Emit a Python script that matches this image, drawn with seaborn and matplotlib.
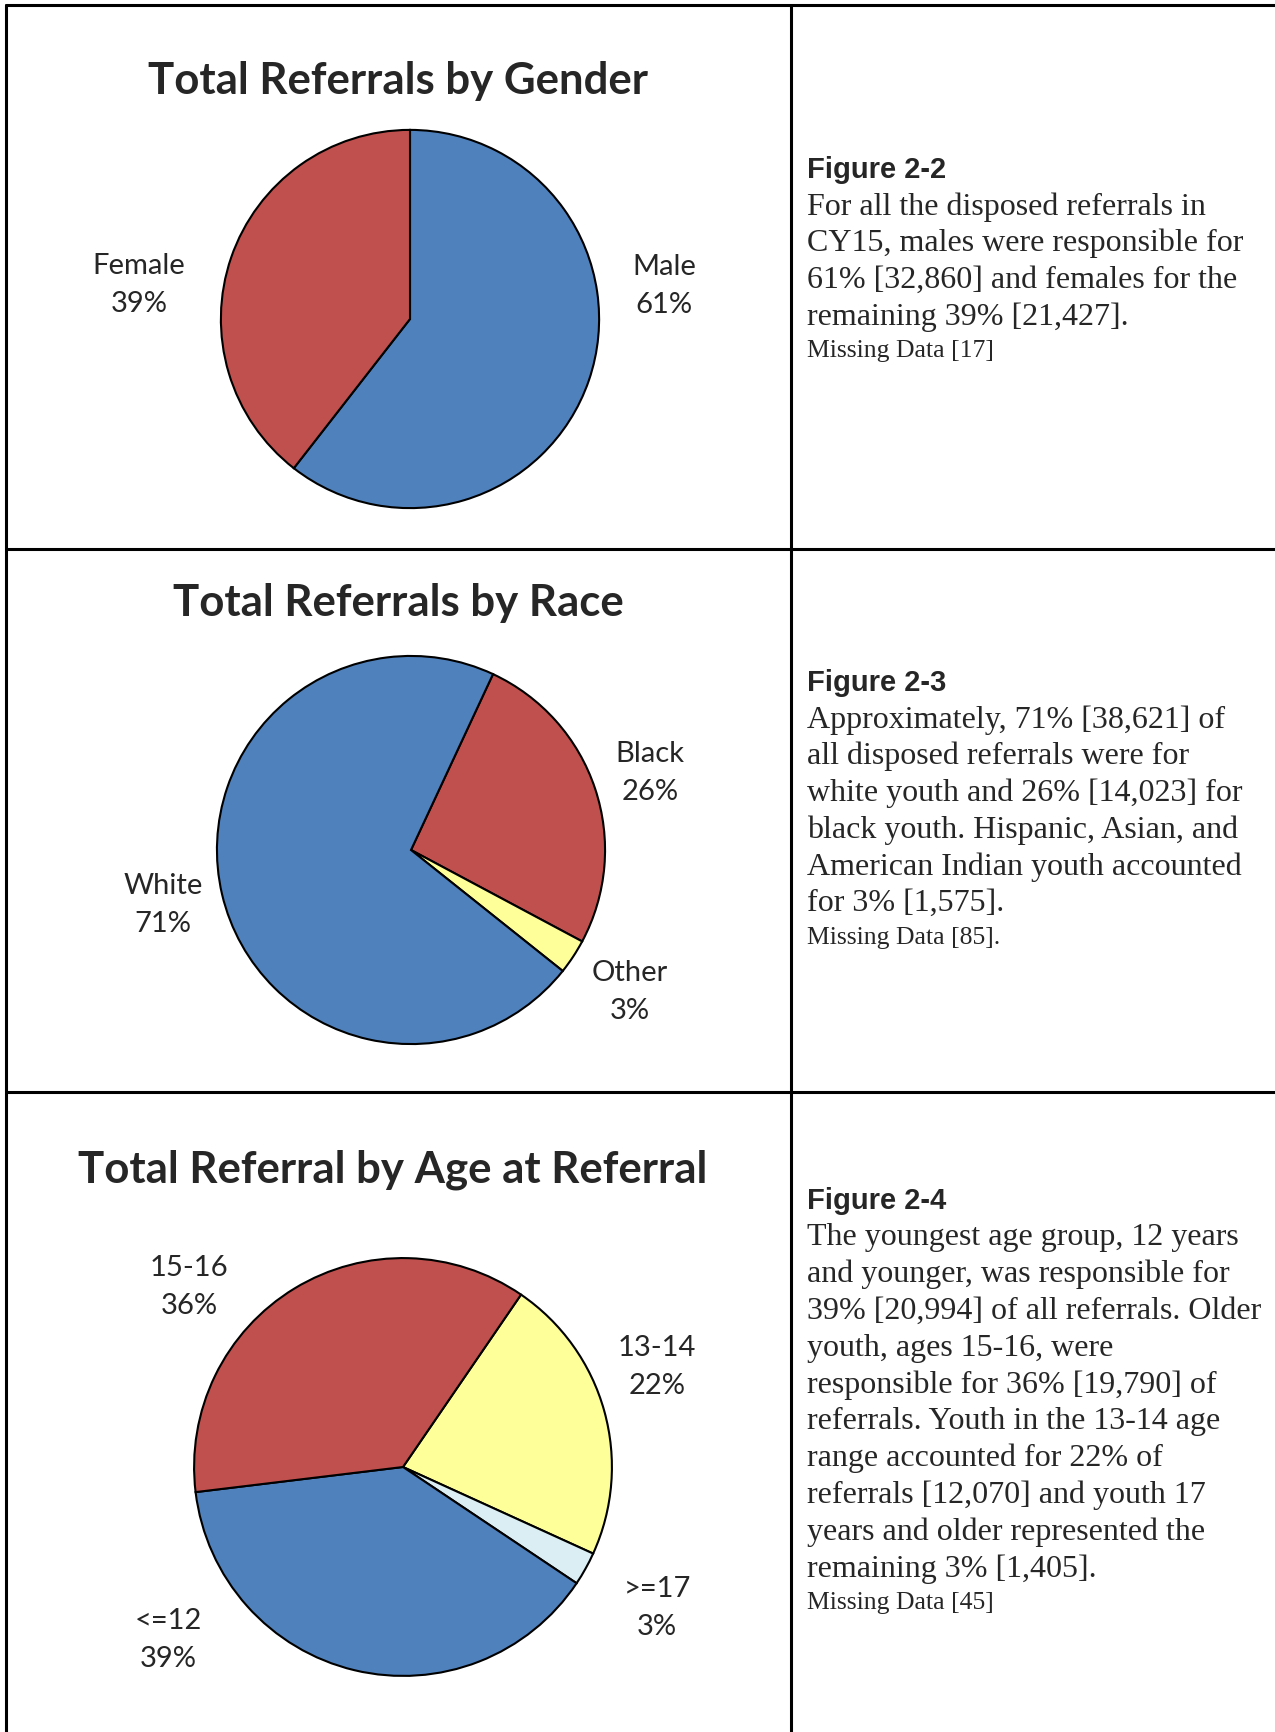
import matplotlib
matplotlib.use("Agg")
import matplotlib.pyplot as plt
import seaborn as sns

gender_labels = ["Male", "Female"]
gender_counts = [32860, 21427]
gender_pcts = ["61%", "39%"]

race_labels = ["Black", "Other", "White"]
race_counts = [14023, 1575, 38621]
race_pcts = ["26%", "3%", "71%"]

age_labels = ["13-14", ">=17", "<=12", "15-16"]
age_counts = [12070, 1405, 20994, 19790]
age_pcts = ["22%", "3%", "39%", "36%"]

# captions on the right
cap_titles = ["Figure 2-2", "Figure 2-3", "Figure 2-4"]
cap_bodies = [
    ["For all the disposed referrals in",
     "CY15, males were responsible for",
     "61% [32,860] and females for the",
     "remaining 39% [21,427]."],
    ["Approximately, 71% [38,621] of",
     "all disposed referrals were for",
     "white youth and 26% [14,023] for",
     "black youth. Hispanic, Asian, and",
     "American Indian youth accounted",
     "for 3% [1,575]."],
    ["The youngest age group, 12 years",
     "and younger, was responsible for",
     "39% [20,994] of all referrals. Older",
     "youth, ages 15-16, were",
     "responsible for 36% [19,790] of",
     "referrals. Youth in the 13-14 age",
     "range accounted for 22% of",
     "referrals [12,070] and youth 17",
     "years and older represented the",
     "remaining 3% [1,405]."],
]
cap_missing = ["Missing Data [17]", "Missing Data [85].", "Missing Data [45]"]

sns.set_theme(style="white")
plt.rcParams["font.family"] = ["Lato", "DejaVu Sans"]

W, H = 1275, 1732
BLUE, RED, YELLOW, LIGHT = "#4F81BD", "#C0504D", "#FFFF99", "#DAEEF3"

fig = plt.figure(figsize=(W / 100, H / 100), dpi=100)
fig.patch.set_facecolor("white")


def fx(x):
    return x / W


def fy(y):
    return 1 - y / H


# table grid lines
lw = 2.2
for xs, ys in [([6, 6], [5, H]), ([791, 791], [5, H]), ([6, W], [5, 5]),
               ([6, W], [549, 549]), ([6, W], [1092, 1092])]:
    fig.add_artist(plt.Line2D([fx(v) for v in xs], [fy(v) for v in ys],
                              color="black", lw=lw))


def draw_pie(cx, cy, r, counts, colors, start, title, tx, ty, labels, pcts, lab_pos):
    ax = fig.add_axes([fx(cx - r), fy(cy + r), 2 * r / W, 2 * r / H])
    ax.pie(counts, colors=sns.color_palette(colors), startangle=start,
           counterclock=False, radius=1,
           wedgeprops=dict(edgecolor="black", linewidth=1.5))
    ax.set_xlim(-1.01, 1.01)
    ax.set_ylim(-1.01, 1.01)
    ax.set_aspect("equal")
    ax.axis("off")
    fig.text(fx(tx), fy(ty), title, ha="center", va="center",
             fontsize=31.5, fontweight="bold")
    for lab, pct, (px, py) in zip(labels, pcts, lab_pos):
        fig.text(fx(px), fy(py - 19), lab, ha="center", va="center", fontsize=21)
        fig.text(fx(px), fy(py + 19), pct, ha="center", va="center", fontsize=21)


draw_pie(410, 319, 191, gender_counts, [BLUE, RED], 90,
         "Total Referrals by Gender", 398, 81, gender_labels, gender_pcts,
         [(664, 286), (139, 285)])
draw_pie(411, 850, 196, race_counts, [RED, YELLOW, BLUE], 65,
         "Total Referrals by Race", 398, 603, race_labels, race_pcts,
         [(650, 773), (630, 992), (163, 905)])
draw_pie(403, 1467, 211, age_counts, [YELLOW, LIGHT, BLUE, RED], 55.6,
         "Total Referral by Age at Referral", 393, 1170, age_labels, age_pcts,
         [(657, 1367), (657, 1608), (168, 1640), (189, 1287)])

# captions
cap_top = [170, 683, 1201]
step = 36.8
for title, body, miss, y0 in zip(cap_titles, cap_bodies, cap_missing, cap_top):
    fig.text(fx(807), fy(y0), title, ha="left", va="center", fontsize=21,
             fontweight="bold", family="Liberation Sans")
    for i, line in enumerate(body):
        fig.text(fx(807), fy(y0 + step * (i + 1)), line, ha="left", va="center",
                 fontsize=23, family="Liberation Serif")
    fig.text(fx(807), fy(y0 + step * len(body) + 34), miss, ha="left",
             va="center", fontsize=18.5, family="Liberation Serif")

fig.savefig("out.png", dpi=100, facecolor="white")
